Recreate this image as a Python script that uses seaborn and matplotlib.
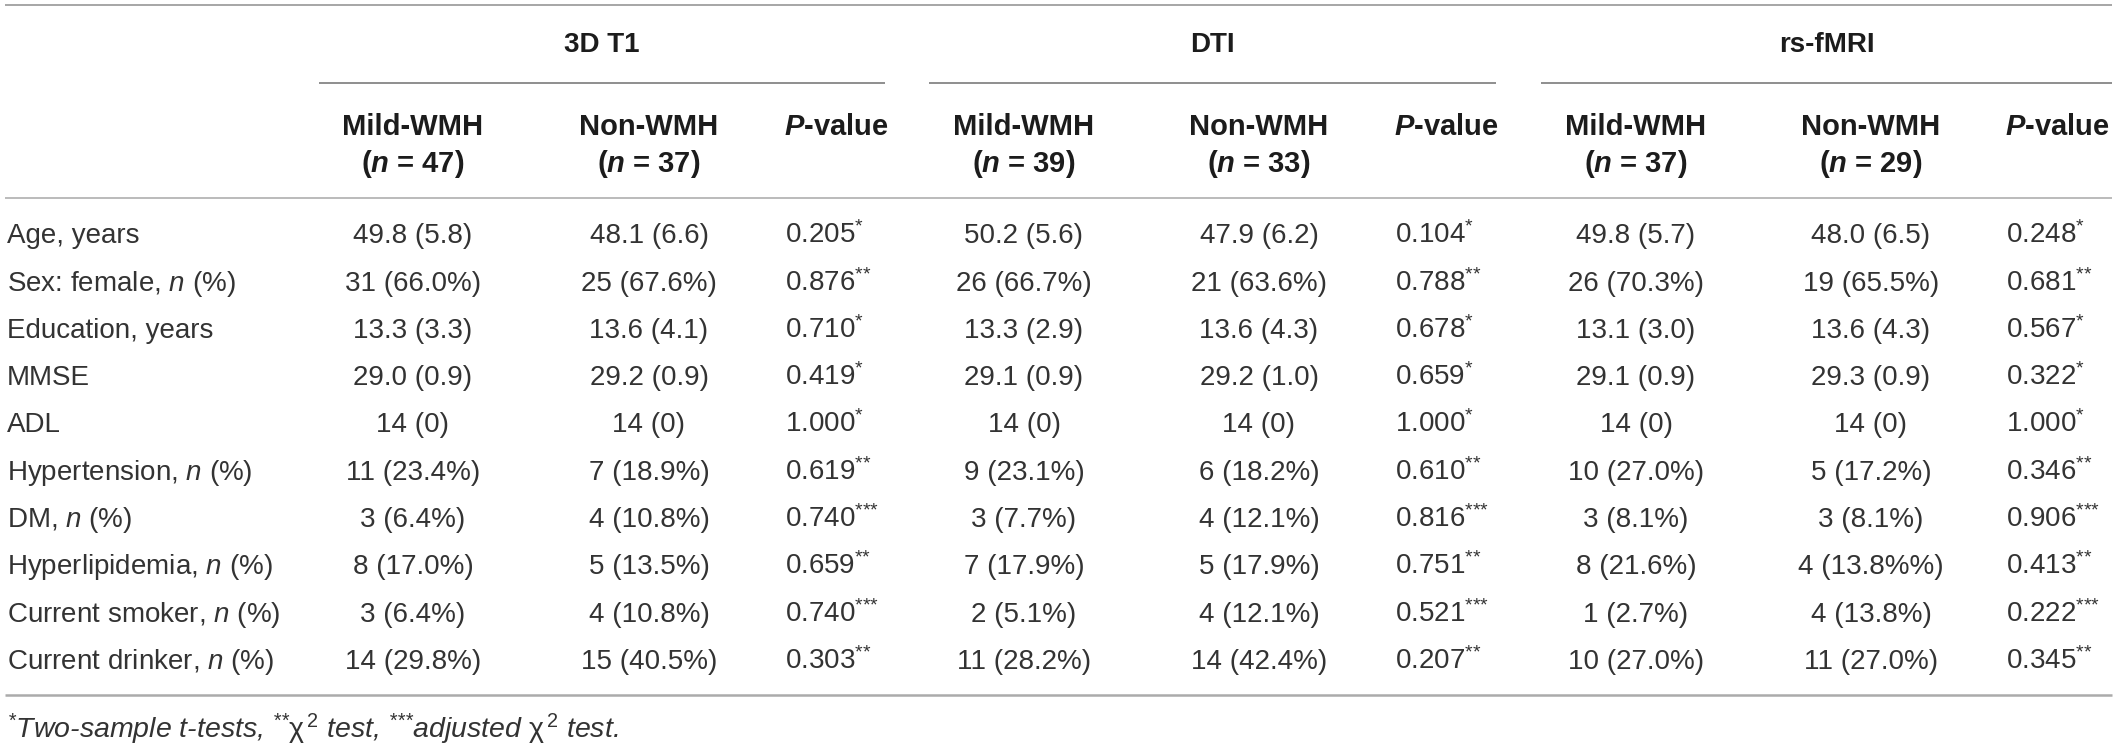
import matplotlib
matplotlib.use("Agg")
import matplotlib.pyplot as plt
import seaborn as sns

sns.set_theme(style="white")
plt.rcParams["font.family"] = ["Liberation Sans", "DejaVu Sans"]
plt.rcParams["mathtext.fontset"] = "custom"
plt.rcParams["mathtext.rm"] = "Liberation Sans"
plt.rcParams["mathtext.it"] = "Liberation Sans:italic"
plt.rcParams["mathtext.bf"] = "Liberation Sans:bold"
plt.rcParams["mathtext.bfit"] = "Liberation Sans:italic:bold"
plt.rcParams["mathtext.default"] = "regular"

# ---------------- data ----------------
groups = ["3D T1", "DTI", "rs-fMRI"]
n_mild = [47, 39, 37]
n_non = [37, 33, 29]

row_labels = [
    "Age, years",
    r"Sex: female, $\mathit{n}$ (%)",
    "Education, years",
    "MMSE",
    "ADL",
    r"Hypertension, $\mathit{n}$ (%)",
    r"DM, $\mathit{n}$ (%)",
    r"Hyperlipidemia, $\mathit{n}$ (%)",
    r"Current smoker, $\mathit{n}$ (%)",
    r"Current drinker, $\mathit{n}$ (%)",
]
test_marks = [1, 2, 1, 1, 1, 2, 3, 2, 3, 2]   # number of asterisks

t1_mild = ["49.8 (5.8)", "31 (66.0%)", "13.3 (3.3)", "29.0 (0.9)", "14 (0)",
           "11 (23.4%)", "3 (6.4%)", "8 (17.0%)", "3 (6.4%)", "14 (29.8%)"]
t1_non = ["48.1 (6.6)", "25 (67.6%)", "13.6 (4.1)", "29.2 (0.9)", "14 (0)",
          "7 (18.9%)", "4 (10.8%)", "5 (13.5%)", "4 (10.8%)", "15 (40.5%)"]
t1_p = ["0.205", "0.876", "0.710", "0.419", "1.000",
        "0.619", "0.740", "0.659", "0.740", "0.303"]

dti_mild = ["50.2 (5.6)", "26 (66.7%)", "13.3 (2.9)", "29.1 (0.9)", "14 (0)",
            "9 (23.1%)", "3 (7.7%)", "7 (17.9%)", "2 (5.1%)", "11 (28.2%)"]
dti_non = ["47.9 (6.2)", "21 (63.6%)", "13.6 (4.3)", "29.2 (1.0)", "14 (0)",
           "6 (18.2%)", "4 (12.1%)", "5 (17.9%)", "4 (12.1%)", "14 (42.4%)"]
dti_p = ["0.104", "0.788", "0.678", "0.659", "1.000",
         "0.610", "0.816", "0.751", "0.521", "0.207"]

rs_mild = ["49.8 (5.7)", "26 (70.3%)", "13.1 (3.0)", "29.1 (0.9)", "14 (0)",
           "10 (27.0%)", "3 (8.1%)", "8 (21.6%)", "1 (2.7%)", "10 (27.0%)"]
rs_non = ["48.0 (6.5)", "19 (65.5%)", "13.6 (4.3)", "29.3 (0.9)", "14 (0)",
          "5 (17.2%)", "3 (8.1%)", "4 (13.8%%)", "4 (13.8%)", "11 (27.0%)"]
rs_p = ["0.248", "0.681", "0.567", "0.322", "1.000",
        "0.346", "0.906", "0.413", "0.222", "0.345"]


def stars(k):
    return "$^{" + "{*}" * k + "}$"


chi2 = r"$\mathrm{χ}^{\,\mathrm{2}}$"
footnote = (stars(1) + "Two-sample t-tests, " + stars(2) + chi2
            + " test, " + stars(3) + "adjusted " + chi2 + " test.")

mild_cols = [t1_mild, dti_mild, rs_mild]
non_cols = [t1_non, dti_non, rs_non]
p_cols = [t1_p, dti_p, rs_p]

# ---------------- layout ----------------
W, H = 2119, 749
fig = plt.figure(figsize=(W / 100, H / 100), dpi=100)
ax = fig.add_axes([0, 0, 1, 1])
ax.set_xlim(0, W)
ax.set_ylim(H, 0)
ax.axis("off")

HEAD_C = "#1c1c1c"
DATA_C = "#333333"
FS_DATA = 20
FS_HEAD = 21
FS_GROUP = 20

label_x = 7
mild_x = [413, 1024, 1636]
non_x = [649, 1259, 1871]
p_x = [785, 1395, 2006]
group_spans = [(319, 885), (929, 1496), (1541, 2112)]

# rules
ax.plot([5, 2112], [5, 5], color="#8e8e8e", lw=1.1, solid_capstyle="butt")
for (x0, x1) in group_spans:
    ax.plot([x0, x1], [82.5, 82.5], color="#707070", lw=1.1, solid_capstyle="butt")
ax.plot([5, 2112], [198, 198], color="#a8a8a8", lw=1.1, solid_capstyle="butt")
ax.plot([5, 2112], [695, 695], color="#ababab", lw=1.8, solid_capstyle="butt")

# group headers
for g, (x0, x1) in zip(groups, group_spans):
    ax.text((x0 + x1) / 2, 52, g, ha="center", va="baseline",
            fontsize=FS_GROUP, fontweight="bold", color=HEAD_C)

# column headers
for i in range(3):
    ax.text(mild_x[i], 135, "Mild-WMH", ha="center", va="baseline",
            fontsize=FS_HEAD, fontweight="bold", color=HEAD_C)
    ax.text(mild_x[i], 172, r"($\mathbfit{n}$ = %d)" % n_mild[i], ha="center",
            va="baseline", fontsize=FS_HEAD, fontweight="bold", color=HEAD_C)
    ax.text(non_x[i], 135, "Non-WMH", ha="center", va="baseline",
            fontsize=FS_HEAD, fontweight="bold", color=HEAD_C)
    ax.text(non_x[i], 172, r"($\mathbfit{n}$ = %d)" % n_non[i], ha="center",
            va="baseline", fontsize=FS_HEAD, fontweight="bold", color=HEAD_C)
    ax.text(p_x[i] - 1, 135, r"$\mathbfit{P}$-value", ha="left", va="baseline",
            fontsize=FS_HEAD, fontweight="bold", color=HEAD_C)

# body rows
row0, dy = 243.3, 47.3
for r, lab in enumerate(row_labels):
    y = row0 + r * dy
    ax.text(label_x, y, lab, ha="left", va="baseline", fontsize=FS_DATA, color=DATA_C)
    for i in range(3):
        ax.text(mild_x[i], y, mild_cols[i][r], ha="center", va="baseline",
                fontsize=FS_DATA, color=DATA_C)
        ax.text(non_x[i], y, non_cols[i][r], ha="center", va="baseline",
                fontsize=FS_DATA, color=DATA_C)
        ax.text(p_x[i], y, p_cols[i][r] + stars(test_marks[r]), ha="left",
                va="baseline", fontsize=FS_DATA, color=DATA_C)

# footnote
ax.text(label_x, 738, footnote, ha="left", va="baseline", fontsize=20.5,
        style="italic", color=DATA_C)

fig.savefig("out.png", dpi=100, facecolor="white")
